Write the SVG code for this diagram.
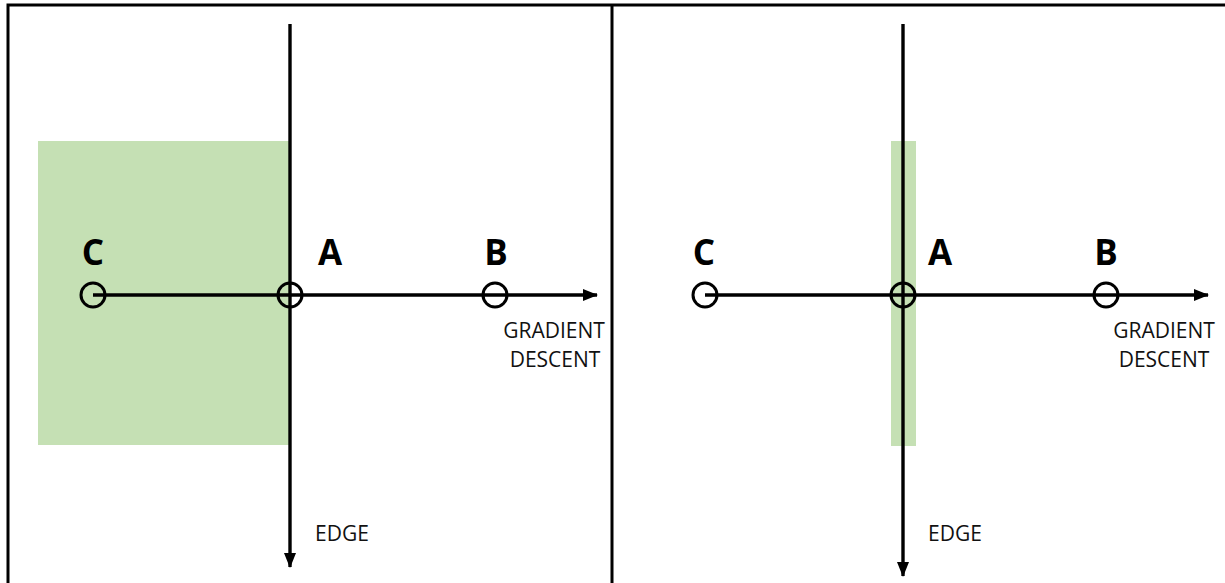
<svg xmlns="http://www.w3.org/2000/svg" width="1225" height="583" viewBox="0 0 1225 583">
<defs>
<marker id="arr" viewBox="0 0 15 12" refX="14" refY="6" markerWidth="15" markerHeight="12" markerUnits="userSpaceOnUse" orient="auto">
<path d="M0,0 L15,6 L0,12 Z" fill="#000"/>
</marker>
<style>
.frame{stroke:#000;stroke-width:3;fill:none}
.zone{fill:#c5e0b4;stroke:none}
.ax{stroke:#000;stroke-width:3.4;fill:none}
.pt{stroke:#000;stroke-width:3;fill:none}
.lbl{font-family:"Open Sans","Liberation Sans",sans-serif;font-weight:bold;font-size:35px;fill:#000;text-anchor:middle}
.cap{font-family:"Open Sans","Liberation Sans",sans-serif;font-size:21px;fill:#111;text-anchor:middle}
</style>
</defs>
<rect width="1225" height="583" fill="#fff"/>
<g id="frame">
<path class="frame" d="M8,583 V5 H1225 M612,5 V583"/>
</g>
<g id="zone-left"><rect class="zone" x="38" y="141" width="252" height="304"/></g>
<g id="zone-right"><rect class="zone" x="891" y="141" width="25" height="305"/></g>
<g id="connectors">
<line class="ax" x1="290" y1="24" x2="290" y2="567" marker-end="url(#arr)"/>
<line class="ax" x1="93" y1="295" x2="597" y2="295" marker-end="url(#arr)"/>
<line class="ax" x1="903" y1="24" x2="903" y2="576" marker-end="url(#arr)"/>
<line class="ax" x1="705" y1="295" x2="1208" y2="295" marker-end="url(#arr)"/>
</g>
<g id="point-C-left"><circle class="pt" cx="93" cy="295" r="12"/><text class="lbl" x="93" y="265">C</text></g>
<g id="point-A-left"><circle class="pt" cx="290" cy="295" r="12"/><text class="lbl" x="330" y="265">A</text></g>
<g id="point-B-left"><circle class="pt" cx="495" cy="295" r="12"/><text class="lbl" x="496" y="265">B</text></g>
<g id="label-gd-left"><text class="cap" x="554" y="338">GRADIENT</text><text class="cap" x="555" y="367">DESCENT</text></g>
<g id="label-edge-left"><text class="cap" x="342" y="541">EDGE</text></g>
<g id="point-C-right"><circle class="pt" cx="705" cy="295" r="12"/><text class="lbl" x="704" y="265">C</text></g>
<g id="point-A-right"><circle class="pt" cx="903" cy="295" r="12"/><text class="lbl" x="940" y="265">A</text></g>
<g id="point-B-right"><circle class="pt" cx="1106" cy="295" r="12"/><text class="lbl" x="1106" y="265">B</text></g>
<g id="label-gd-right"><text class="cap" x="1164" y="338">GRADIENT</text><text class="cap" x="1164" y="367">DESCENT</text></g>
<g id="label-edge-right"><text class="cap" x="955" y="541">EDGE</text></g>
</svg>
